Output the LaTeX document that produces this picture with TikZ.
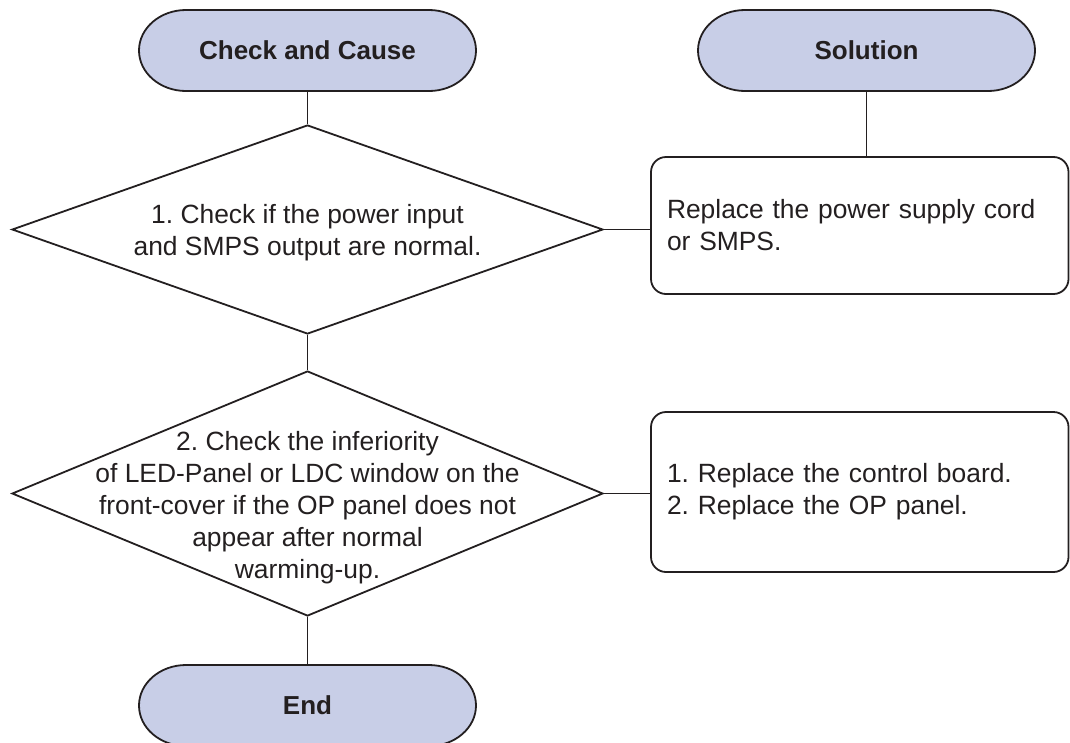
\documentclass[tikz,border=0pt]{standalone}
\usepackage{fontspec}
\setmainfont{Liberation Sans}
\usetikzlibrary{shapes.geometric}
\definecolor{lav}{RGB}{200,206,231}
\definecolor{ink}{RGB}{35,31,32}
\frenchspacing
\newcommand\termshape[2]{%
  \path[termfill] (#1-121.5,#2-40.5) -- (#1+121.5,#2-40.5)
    arc[start angle=90, end angle=-90, x radius=47pt, y radius=40.5pt]
    -- (#1-121.5,#2+40.5)
    arc[start angle=270, end angle=90, x radius=47pt, y radius=40.5pt] -- cycle;}
\begin{document}
\begin{tikzpicture}[x=1pt,y=-1pt,
  txt/.style={font=\fontsize{26.4}{32}\selectfont, text=ink, inner sep=0pt},
  termfill/.style={draw=ink, fill=lav, line width=1.8pt},
  term/.style={minimum width=337pt, minimum height=81pt, inner sep=0pt, text=ink,
    font=\fontsize{26}{32}\selectfont\bfseries},
  dia/.style={draw=ink, line width=1.8pt, diamond, minimum width=591pt,
    minimum height=209pt, inner sep=0pt},
  solbox/.style={draw=ink, line width=1.8pt, rounded corners=15pt,
    minimum width=417.5pt, inner xsep=16pt, inner ysep=0pt, text width=385.5pt,
    align=left, text=ink, font=\fontsize{26.4}{32}\selectfont},
  conn/.style={draw=ink, line width=1.8pt}]
\useasboundingbox (0,0) rectangle (1070,742);

\termshape{307.5}{50.5}
\node[term] (cc) at (307.5,50.5) {Check and Cause};
\termshape{866.5}{50.5}
\node[term] (sol) at (866.5,50.5) {Solution};

\node[dia] (d1) at (307.5,229.5) {};
\node[txt, align=center] (t1) at (307.5,233) {1. Check if the power input\\and SMPS output are normal.};

\node[dia, minimum height=245pt] (d2) at (307.5,493.5) {};
\node[txt, align=center] (t2) at (307.5,508) {2. Check the inferiority\\of LED-Panel or LDC window on the\\front-cover if the OP panel does not\\appear after normal\\warming-up.};

\node[solbox, minimum height=137pt] (b1) at (859.75,225.5) {Replace the power supply cord\\or SMPS.};
\node[solbox, minimum height=160pt] (b2) at (859.75,492) {1. Replace the control board.\\2. Replace the OP panel.};

\termshape{307.5}{705.5}
\node[term] (end) at (307.5,705.5) {End};

\draw[conn] (cc.south) -- (d1.north);
\draw[conn] (d1.south) -- (d2.north);
\draw[conn] (d2.south) -- (end.north);
\draw[conn] (sol.south) -- (sol.south |- b1.north);
\draw[conn] (d1.east) -- (d1.east -| b1.west);
\draw[conn] (d2.east) -- (d2.east -| b2.west);
\end{tikzpicture}
\end{document}
